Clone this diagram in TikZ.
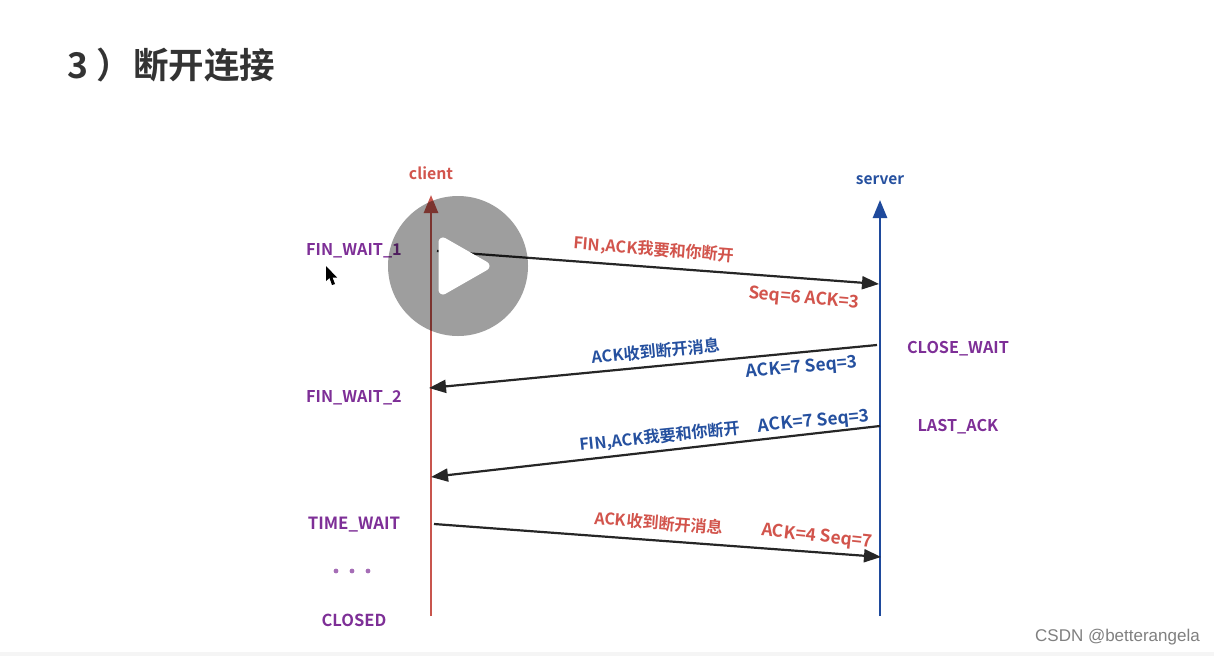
\documentclass[tikz,border=0pt]{standalone}
\usepackage{fontspec}
\setmainfont{Noto Sans CJK SC}[BoldFont={Noto Sans CJK SC Bold}]
\newfontfamily\wmfont{Liberation Sans}
\usetikzlibrary{arrows.meta}
\definecolor{cred}{HTML}{D2544C}
\definecolor{cblue}{HTML}{25509F}
\definecolor{cpurple}{HTML}{7E2F97}
\definecolor{cdark}{HTML}{333333}
\definecolor{linered}{HTML}{C8554D}
\definecolor{lineblue}{HTML}{1F4A9C}
\newcommand{\fsz}[1]{\fontsize{#1pt}{#1pt}\selectfont}
\tikzset{
  x=1pt,y=-1pt,
  lbl/.style={inner sep=0pt,font=\bfseries\fsz{16.2}},
  sublbl/.style={inner sep=0pt,font=\bfseries\fsz{17.4}},
  state/.style={lbl,text=cpurple},
  redlbl/.style={lbl,text=cred},
  bluelbl/.style={lbl,text=cblue},
  msg/.style={draw=black!85,line width=2.2pt,-{Triangle[length=17pt,width=13pt]}},
  lifeline/.style={line width=2.6pt,-{Triangle[length=18pt,width=14pt]}},
}
\begin{document}
\begin{tikzpicture}
\useasboundingbox (0,0) rectangle (1214,656);
\fill[white] (0,0) rectangle (1214,656);
\fill[black!4] (0,652) rectangle (1214,656);
\node[inner sep=0pt,anchor=west,text=cdark,font=\bfseries\fsz{35.5}] (title) at (67.5,65) {3\kern8pt）\kern1pt 断开连接};
% lifelines
\coordinate (cb) at (431,616);
\coordinate (ct) at (431,195);
\coordinate (sb) at (880,616);
\coordinate (st) at (880,200);
\draw[linered,lifeline] (cb) -- (ct);
\draw[lineblue,lifeline] (sb) -- (st);
\node[lbl,text=cred,font=\bfseries\fsz{15.8}] (client) at (431,173) {client};
\node[lbl,text=cblue,font=\bfseries\fsz{15.5}] (server) at (880,180) {server};
% message ends
\coordinate (a1) at (437,251); \coordinate (b1) at (879,284);
\coordinate (a2) at (877,345); \coordinate (b2) at (429,388);
\coordinate (a3) at (880,426); \coordinate (b3) at (431,477);
\coordinate (a4) at (434,524); \coordinate (b4) at (881,557);
\draw[msg] (a1) -- (b1);
\draw[msg] (a2) -- (b2);
\draw[msg] (a3) -- (b3);
\draw[msg] (a4) -- (b4);
% states
\node[state] (s1) at (354,251) {FIN\_WAIT\_1};
\node[state] (s2) at (354,398) {FIN\_WAIT\_2};
\node[state,font=\bfseries\fsz{16.8}] (s3) at (354,525) {TIME\_WAIT};
\node[state,font=\bfseries\fsz{16.5}] (s4) at (354,620) {CLOSED};
\node[state] (s5) at (958,349) {CLOSE\_WAIT};
\node[state] (s6) at (958,427) {LAST\_ACK};
\fill[cpurple!70] (336,571) circle (2.4pt) (352,571) circle (2.4pt) (368,571) circle (2.4pt);
% message labels
\node[redlbl,rotate=-4.5] (m1) at (654,250) {FIN,ACK我要和你断开};
\node[redlbl,sublbl,rotate=-5] (m1b) at (804,299) {Seq=6 ACK=3};
\node[bluelbl,rotate=5.5] (m2) at (656,351) {ACK收到断开消息};
\node[bluelbl,sublbl,rotate=5] (m2b) at (802,368) {ACK=7 Seq=3};
\node[bluelbl,rotate=6] (m3) at (660,437) {FIN,ACK我要和你断开};
\node[bluelbl,sublbl,rotate=5.5] (m3b) at (814,422) {ACK=7 Seq=3};
\node[redlbl,rotate=-4.5] (m4) at (659,523) {ACK收到断开消息};
\node[redlbl,sublbl,rotate=-6] (m4b) at (817,537) {ACK=4 Seq=7};
% cursor
\fill[black] (326,266) -- (326,281) -- (329.5,278) -- (332,285) -- (335,284) -- (332.5,277.5) -- (337,277.5) -- cycle;
% play overlay
\fill[black,opacity=.38] (458,266) circle (70);
\fill[white,draw=white,line width=9pt,line join=round] (443,242) -- (485,266) -- (443,290) -- cycle;
% watermark
\node[inner sep=0pt,anchor=east,text=black!50,font=\wmfont\fsz{17}] (wm) at (1200,637) {CSDN @betterangela};
\end{tikzpicture}
\end{document}
